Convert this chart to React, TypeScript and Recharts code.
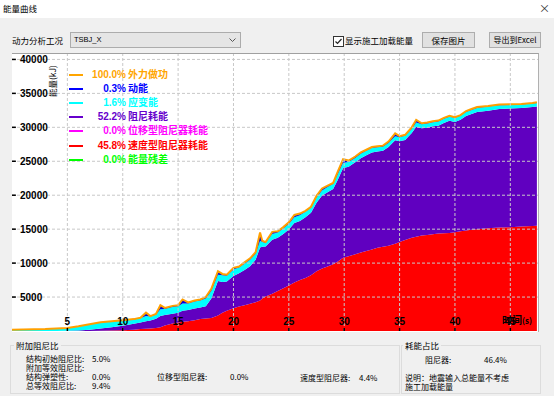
import { Area, ComposedChart, Line, ReferenceLine, XAxis, YAxis } from "recharts";

// time history samples (s)
const times = [
  0, 1, 2, 3, 4, 5, 6, 7, 8, 9, 10, 11, 11.6, 12.1, 12.5, 13, 13.4, 13.8, 14.5, 15, 15.4, 15.9, 16.5, 17, 17.5,
  18, 18.6, 19, 19.4, 20, 20.5, 21, 21.5, 22, 22.4, 22.6, 22.9, 23.5, 24, 24.5, 25, 25.5, 26, 26.5, 27, 27.5,
  28, 28.5, 29, 29.4, 29.9, 30.4, 31, 31.5, 32, 32.5, 33, 33.5, 34, 34.6, 35, 35.5, 36.1, 36.5, 37, 37.5, 38,
  38.5, 39, 39.5, 40, 40.5, 41, 41.5, 42, 43, 44, 45, 46, 47, 47.4,
];

// 外力做功 (kJ)
const externalWork = [
  200, 220, 260, 300, 380, 450, 700, 1000, 1300, 1450, 1600, 1750, 1950, 2700, 2200, 2500, 3800, 3400, 3700,
  3800, 4650, 4200, 4500, 4650, 5000, 6200, 8800, 8400, 8300, 9300, 9500, 10100, 10700, 11600, 14500, 13300,
  13100, 14600, 14700, 15300, 16000, 17100, 17300, 17700, 18300, 19900, 21000, 21400, 21800, 23400, 25300,
  25100, 25700, 26300, 26700, 27100, 27200, 27300, 27900, 29100, 28700, 28900, 30000, 31100, 30600, 30700,
  30900, 31000, 31400, 31700, 31500, 31800, 32400, 32700, 33000, 33150, 33350, 33400, 33450, 33600, 33700,
];

// 速度型阻尼器耗能
const velDamperEnergy = [
  0, 0, 0, 0, 0, 0, 0, 0, 30, 60, 100, 200, 280, 330, 380, 450, 550, 800, 1100, 1250, 1350, 1450, 1600, 1750,
  1850, 1900, 2300, 2700, 3000, 3350, 3600, 3800, 4000, 4250, 4500, 4800, 5100, 5500, 5900, 6300, 6700, 7150,
  7500, 7800, 8200, 8800, 9200, 9500, 9850, 10200, 10800, 11000, 11300, 11550, 11800, 12000, 12250, 12400,
  12550, 12850, 13100, 13400, 13750, 13900, 14050, 14150, 14250, 14350, 14400, 14450, 14550, 14700, 14800,
  14900, 15000, 15150, 15250, 15300, 15400, 15450, 15500,
];

// 阻尼耗能
const dampingEnergy = [
  0, 0, 0, 0, 0, 20, 80, 200, 320, 490, 680, 850, 970, 1120, 1170, 1350, 1650, 1550, 1450, 1450, 1650, 1650,
  1700, 1700, 1800, 2900, 5050, 4500, 4300, 4750, 4900, 5200, 5550, 6250, 7800, 7600, 7350, 7950, 7850, 8000,
  8250, 8750, 8700, 8950, 9200, 10100, 10750, 10950, 11050, 12000, 13200, 13200, 13550, 13900, 14100, 14300,
  14200, 14150, 14550, 15250, 14850, 14750, 15400, 16200, 15800, 15800, 15900, 15900, 16250, 16500, 16250,
  16400, 16850, 17050, 17250, 17300, 17450, 17480, 17450, 17530, 17560,
];

// 应变能
const strainEnergy = [
  190, 210, 250, 285, 360, 400, 580, 740, 870, 840, 760, 640, 620, 750, 570, 600, 1000, 900, 1000, 950, 1050,
  950, 1050, 1050, 1150, 1100, 950, 1000, 850, 950, 850, 900, 950, 850, 1000, 700, 500, 850, 750, 800, 800,
  850, 850, 800, 750, 750, 750, 750, 750, 800, 800, 700, 650, 650, 650, 650, 600, 600, 600, 600, 600, 600,
  600, 600, 600, 600, 600, 600, 600, 600, 600, 600, 600, 600, 600, 600, 550, 520, 500, 520, 540,
];

// 动能
const kineticEnergy = [
  10, 10, 10, 15, 20, 30, 40, 60, 80, 60, 60, 60, 80, 500, 80, 100, 600, 150, 150, 150, 600, 150, 150, 150,
  200, 300, 500, 200, 150, 250, 150, 200, 200, 250, 1200, 200, 150, 300, 200, 200, 250, 350, 250, 150, 150,
  250, 300, 200, 150, 400, 500, 200, 200, 200, 150, 150, 150, 150, 200, 400, 150, 150, 250, 400, 150, 150,
  150, 150, 150, 150, 100, 100, 150, 150, 150, 100, 100, 100, 100, 100, 100,
];

const legendPercents = ["100.0%", "0.3%", "1.6%", "52.2%", "0.0%", "45.8%", "0.0%"];
const legendNames = ["外力做功", "动能", "应变能", "阻尼耗能", "位移型阻尼器耗能", "速度型阻尼器耗能", "能量残差"];
const legendColors = ["#FFA500", "#0000FF", "#00FFFF", "#6600CC", "#FF00FF", "#FF0000", "#00FF00"];

const xTicks = [5, 10, 15, 20, 25, 30, 35, 40, 45];
const yTicks = [5000, 10000, 15000, 20000, 25000, 30000, 35000, 40000];

const data = times.map((t, i) => ({
  t,
  work: externalWork[i],
  vel: velDamperEnergy[i],
  damp: dampingEnergy[i],
  strain: strainEnergy[i],
  kin: kineticEnergy[i],
}));

const ui = '"Noto Sans CJK SC", "Noto Sans", sans-serif';
const num = '"Liberation Sans", Arial, sans-serif';

// tick labels are hung on the grid lines so they always draw inside the plot
const XLabel = (v: number) => (props: any) => {
  const vb = props.viewBox;
  return (
    <text x={vb.x} y={vb.y + vb.height - 6} textAnchor="middle" fontSize={10} fontWeight="bold" fontFamily={num} fill="#000">
      {v}
    </text>
  );
};

const YLabel = (v: number) => (props: any) => {
  const vb = props.viewBox;
  return (
    <text x={vb.x + 8} y={vb.y + 4} textAnchor="start" fontSize={10} fontWeight="bold" fontFamily={num} fill="#000">
      {v}
    </text>
  );
};

const abs = (left: number, top: number, extra: any = {}) => ({ position: "absolute" as const, left, top, ...extra });

const T = ({ x, y, children, size = 8, color = "#000" }: any) => (
  <div style={abs(x, y, { fontSize: size, lineHeight: "9px", color, whiteSpace: "nowrap" })}>{children}</div>
);

export default function App() {
  return (
    <div style={abs(0, 0, { width: 554, height: 396, background: "#f0f0f0", overflow: "hidden", fontFamily: ui })}>
      {/* title bar */}
      <div style={abs(0, 0, { width: 554, height: 18, background: "#fff" })} />
      <T x={3} y={4} size={8.5}>能量曲线</T>
      <div style={abs(539, 2, { fontSize: 11, lineHeight: "12px", color: "#333" })}>×</div>

      {/* toolbar */}
      <T x={12} y={36} size={8.5}>动力分析工况</T>
      <div style={abs(70, 32, { width: 169, height: 14, background: "#e5e5e5", border: "1px solid #acacac" })}>
        <span style={{ position: "absolute", left: 3, top: 2, fontSize: 7.5, lineHeight: "10px", fontFamily: num }}>TSBJ_X</span>
        <svg style={{ position: "absolute", right: 4, top: 5 }} width={7} height={5}>
          <polyline points="0.5,0.5 3.5,3.5 6.5,0.5" fill="none" stroke="#555" strokeWidth={1} />
        </svg>
      </div>
      <div style={abs(333, 36, { width: 9, height: 9, background: "#fff", border: "1px solid #333" })}>
        <svg style={{ position: "absolute", left: 0, top: 0 }} width={9} height={9}>
          <polyline points="1.5,4.5 3.5,6.5 7.5,2" fill="none" stroke="#222" strokeWidth={1.2} />
        </svg>
      </div>
      <T x={345} y={36} size={8.5}>显示施工加载能量</T>
      <div style={abs(422, 32, { width: 51, height: 14, background: "#e1e1e1", border: "1px solid #adadad", fontSize: 8.5, lineHeight: "14px", textAlign: "center" })}>保存图片</div>
      <div style={abs(489, 32, { width: 50, height: 14, background: "#e1e1e1", border: "1px solid #adadad", fontSize: 8, lineHeight: "14px", textAlign: "center" })}>导出到Excel</div>

      {/* plot background */}
      <div style={abs(12, 53, { width: 526, height: 278, background: "#fff", borderTop: "1px solid #a0a0a0", borderRight: "1px solid #b0b0b0" })} />

      <div style={abs(0, 0)}>
        <ComposedChart width={554} height={340} data={data} margin={{ top: 54, right: 16, bottom: 9, left: 12 }}>
          <XAxis
            dataKey="t"
            type="number"
            domain={[0, 47.5]}
            ticks={xTicks}
            interval={0}
            height={0}
            mirror
            tick={false}
            tickLine={false}
            axisLine={{ stroke: "#000", strokeWidth: 2 }}
            allowDataOverflow
          />
          <YAxis
            type="number"
            domain={[0, 40800]}
            ticks={yTicks}
            interval={0}
            width={0}
            mirror
            tick={false}
            tickLine={false}
            axisLine={{ stroke: "#000", strokeWidth: 2 }}
            allowDataOverflow
          />
          <Area dataKey="vel" stackId="e" type="linear" stroke="none" fill="#FF0000" fillOpacity={1} isAnimationActive={false} dot={false} activeDot={false} />
          <Area dataKey="damp" stackId="e" type="linear" stroke="none" fill="#6000C0" fillOpacity={1} isAnimationActive={false} dot={false} activeDot={false} />
          <Area dataKey="strain" stackId="e" type="linear" stroke="none" fill="#00FFFF" fillOpacity={1} isAnimationActive={false} dot={false} activeDot={false} />
          <Area dataKey="kin" stackId="e" type="linear" stroke="none" fill="#0000E0" fillOpacity={1} isAnimationActive={false} dot={false} activeDot={false} />
          <Line dataKey="work" type="linear" stroke="#FFA000" strokeWidth={2} dot={false} activeDot={false} isAnimationActive={false} />
          {xTicks.map((v) => (
            <ReferenceLine key={"x" + v} x={v} stroke="#c8c8c8" strokeDasharray="3 2" strokeWidth={1} label={XLabel(v)} />
          ))}
          {yTicks.map((v) => (
            <ReferenceLine key={"y" + v} y={v} stroke="#c8c8c8" strokeDasharray="3 2" strokeWidth={1} label={YLabel(v)} />
          ))}
          {/* small inward tick marks on the axes */}
          {xTicks.map((v) => (
            <ReferenceLine key={"xt" + v} stroke="#000" strokeWidth={1.5} segment={[{ x: v, y: 0 }, { x: v, y: 450 }]} />
          ))}
          {yTicks.map((v) => (
            <ReferenceLine key={"yt" + v} stroke="#000" strokeWidth={1.5} segment={[{ x: 0, y: v }, { x: 0.35, y: v }]} />
          ))}
        </ComposedChart>
      </div>

      {/* y axis title */}
      <div style={abs(52, 81, { transform: "translate(-50%, -50%) rotate(-90deg)", fontSize: 8.5, lineHeight: "10px", whiteSpace: "nowrap" })}>能量(kJ)</div>
      {/* x axis title */}
      <div style={abs(502, 314, { fontSize: 10, fontWeight: "bold", lineHeight: "12px", whiteSpace: "nowrap", fontFamily: ui })}>
        时间<span style={{ fontSize: 8 }}>(s)</span>
      </div>

      {/* legend */}
      {legendNames.map((name, i) => (
        <div key={name} style={abs(0, 68 + i * 14.1, { height: 13 })}>
          <div style={abs(69, 6, { width: 14, height: 2, background: legendColors[i] })} />
          <div style={abs(86, 0, { width: 40, textAlign: "right", fontFamily: num, fontWeight: "bold", fontSize: 10, lineHeight: "13px", color: legendColors[i] })}>
            {legendPercents[i]}
          </div>
          <div style={abs(128, -1, { fontWeight: "bold", fontSize: 10, lineHeight: "14px", color: legendColors[i], whiteSpace: "nowrap" })}>{name}</div>
        </div>
      ))}

      {/* bottom group boxes */}
      <div style={abs(10, 345, { width: 388, height: 47, border: "1px solid #dcdcdc" })} />
      <div style={abs(14, 340, { background: "#f0f0f0", padding: "0 2px", fontSize: 8.5, lineHeight: "10px" })}>附加阻尼比</div>
      <T x={26} y={354}>结构初始阻尼比:</T>
      <T x={92} y={354}>5.0%</T>
      <T x={26} y={363}>附加等效阻尼比:</T>
      <T x={26} y={372}>结构弹塑性:</T>
      <T x={92} y={372}>0.0%</T>
      <T x={157} y={372}>位移型阻尼器:</T>
      <T x={230} y={372}>0.0%</T>
      <T x={300} y={373}>速度型阻尼器:</T>
      <T x={359} y={373}>4.4%</T>
      <T x={26} y={381}>总等效阻尼比:</T>
      <T x={92} y={381}>9.4%</T>

      <div style={abs(401, 345, { width: 138, height: 47, border: "1px solid #dcdcdc" })} />
      <div style={abs(403, 340, { background: "#f0f0f0", padding: "0 2px", fontSize: 8.5, lineHeight: "10px" })}>耗能占比</div>
      <T x={425} y={355}>阻尼器:</T>
      <T x={484} y={355}>46.4%</T>
      <T x={405} y={373}>说明：地震输入总能量不考虑</T>
      <T x={405} y={382}>施工加载能量</T>
    </div>
  );
}
